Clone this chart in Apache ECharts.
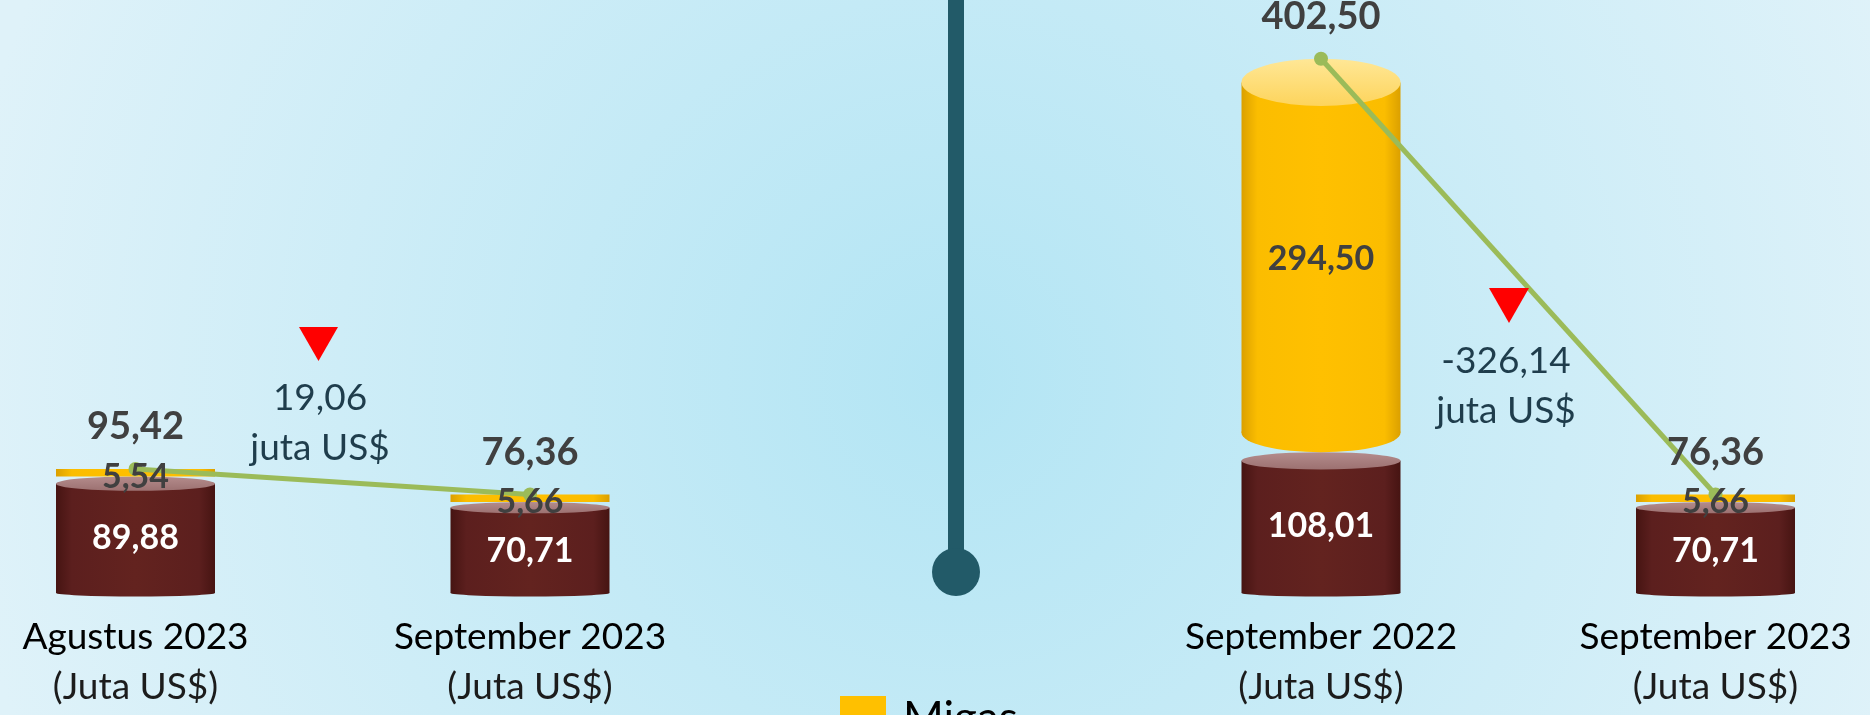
<!DOCTYPE html>
<html><head><meta charset="utf-8">
<script src="https://cdn.jsdelivr.net/npm/echarts/dist/echarts.min.js"></script>
<style>html,body{margin:0;padding:0;overflow:hidden;}#c{width:1870px;height:715px;}</style>
</head><body><div id="c"></div>
<script>
// ---- data ----
const leftCategories = ['Agustus 2023', 'September 2023'];
const rightCategories = ['September 2022', 'September 2023'];
const leftNonMigas = [89.88, 70.71];
const leftMigas = [5.54, 5.66];
const leftTotal = [95.42, 76.36];
const rightNonMigas = [108.01, 70.71];
const rightMigas = [294.50, 5.66];
const rightTotal = [402.50, 76.36];
const changeValues = ['19,06', '-326,14'];
const changeUnit = 'juta US$';
const unitLabel = '(Juta US$)';
const legendNames = ['Migas', 'Non Migas'];

// ---- helpers ----
const FONT = 'Lato, "Open Sans", sans-serif';
const fmt = v => Number(v).toFixed(2).replace('.', ',');
const HALF_W = 79.5;

function segData(base, vals) {
  return vals.map((v, i) => {
    const s = base ? base[i] : 0;
    return [i, s, s + v, v];
  });
}
function hGrad(stops) {
  return { type: 'linear', x: 0, y: 0, x2: 1, y2: 0, colorStops: stops };
}
function vGrad(stops) {
  return { type: 'linear', x: 0, y: 0, x2: 0, y2: 1, colorStops: stops };
}
const PAL = {
  non: {
    body: hGrad([{offset:0,color:'#461412'},{offset:0.1,color:'#5c1f1e'},{offset:0.5,color:'#63231f'},{offset:0.9,color:'#5c1f1e'},{offset:1,color:'#461412'}]),
    top: vGrad([{offset:0,color:'#b48c8c'},{offset:1,color:'#9c7171'}])
  },
  migas: {
    body: hGrad([{offset:0,color:'#dba000'},{offset:0.1,color:'#fbbd00'},{offset:0.5,color:'#ffc000'},{offset:0.9,color:'#fbbd00'},{offset:1,color:'#dba000'}]),
    top: vGrad([{offset:0,color:'#ffe796'},{offset:1,color:'#fdd45c'}])
  }
};

function cylRender(kind) {
  const pal = PAL[kind];
  return function (params, api) {
    const i = api.value(0), s = api.value(1), e = api.value(2);
    const pB = api.coord([i, s]);
    const pT = api.coord([i, e]);
    const cx = pB[0], yB = pB[1], yT = pT[1], h = yB - yT;
    const w = HALF_W;
    const children = [];
    if (h < 20) {
      children.push({ type: 'rect', shape: { x: cx - w, y: yT, width: 2 * w, height: h }, style: { fill: pal.body } });
    } else {
      const ryT = Math.max(5, Math.min(25, h * 0.06));
      const ryB = s === 0 ? 3.5 : ryT * 0.82;
      const y1 = yT + ryT, y2 = yB - ryB;
      children.push({ type: 'rect', shape: { x: cx - w, y: y1, width: 2 * w, height: y2 - y1 }, style: { fill: pal.body } });
      children.push({ type: 'circle', shape: { cx: 0, cy: 0, r: w }, x: cx, y: y2, scaleY: ryB / w, style: { fill: pal.body } });
      children.push({ type: 'circle', shape: { cx: 0, cy: 0, r: w }, x: cx, y: y1, scaleY: ryT / w, style: { fill: pal.top } });
    }
    return { type: 'group', children };
  };
}
function labelRender(kind) {
  return function (params, api) {
    const i = api.value(0), s = api.value(1), e = api.value(2), v = api.value(3);
    const pB = api.coord([i, s]);
    const pT = api.coord([i, e]);
    const cy = (pB[1] + pT[1]) / 2 + (kind === 'migas' ? 4 : 2);
    return {
      type: 'text', x: pB[0], y: cy,
      style: {
        text: fmt(v), fill: kind === 'migas' ? '#404040' : '#ffffff',
        fontSize: 34, fontWeight: 'bold', fontFamily: FONT,
        align: 'center', verticalAlign: 'middle'
      }
    };
  };
}

function panelSeries(gi, non, mig, tot) {
  const nonData = segData(null, non);
  const migData = segData(non, mig);
  const common = { type: 'custom', xAxisIndex: gi, yAxisIndex: gi, encode: { x: 0, y: [1, 2] }, silent: true };
  return [
    Object.assign({}, common, { name: 'Non Migas', data: nonData, renderItem: cylRender('non'), itemStyle: { color: '#63231f' }, z: 2 }),
    Object.assign({}, common, { name: 'Migas', data: migData, renderItem: cylRender('migas'), itemStyle: { color: '#ffc000' }, z: 2 }),
    {
      type: 'line', xAxisIndex: gi, yAxisIndex: gi, name: 'Total' + gi, data: tot,
      symbol: 'circle', symbolSize: 14, z: 3,
      lineStyle: { color: '#9bbb59', width: 5 }, itemStyle: { color: '#9bbb59' },
      label: { show: true, position: 'top', distance: 16, formatter: p => fmt(p.value),
        fontSize: 38, fontWeight: 'bold', fontFamily: FONT, color: '#404040' }
    },
    Object.assign({}, common, { name: 'lblNon' + gi, data: nonData, renderItem: labelRender('non'), z: 4 }),
    Object.assign({}, common, { name: 'lblMig' + gi, data: migData, renderItem: labelRender('migas'), z: 4 })
  ];
}

function xAxisFor(gi, cats) {
  return {
    type: 'category', gridIndex: gi, data: cats, boundaryGap: false,
    axisLine: { show: false }, axisTick: { show: false }, splitLine: { show: false },
    axisLabel: {
      interval: 0, margin: 16,
      formatter: v => '{a|' + v + '}\n{b|' + unitLabel + '}',
      rich: {
        a: { fontSize: 37, color: '#000000', lineHeight: 50, fontFamily: FONT },
        b: { fontSize: 37, color: '#1c1c1c', lineHeight: 50, fontFamily: FONT }
      }
    }
  };
}
function yAxisFor(gi) {
  return { type: 'value', gridIndex: gi, min: 0, max: 440, show: false };
}

const chart = echarts.init(document.getElementById('c'), null, { renderer: 'canvas' });
chart.setOption({
  animation: false,
  backgroundColor: {
    type: 'radial', x: 0.51, y: 0.53, r: 1.4,
    colorStops: [{ offset: 0, color: '#b3e5f4' }, { offset: 1, color: '#dff2f9' }]
  },
  grid: [
    { left: 135.5, width: 394.5, top: 8.7, height: 587.8 },
    { left: 1321, width: 394.5, top: 8.7, height: 587.8 }
  ],
  xAxis: [xAxisFor(0, leftCategories), xAxisFor(1, rightCategories)],
  yAxis: [yAxisFor(0), yAxisFor(1)],
  legend: {
    data: legendNames, orient: 'vertical', left: 835, top: 691, height: 200,
    itemWidth: 46, itemHeight: 46, itemGap: 20, icon: 'rect',
    textStyle: { fontSize: 44, color: '#000', fontFamily: FONT, padding: [0, 0, 0, 12] }
  },
  graphic: [
    { type: 'rect', shape: { x: 948, y: -5, width: 16, height: 580 }, style: { fill: '#225a68' }, z: 1 },
    { type: 'circle', shape: { cx: 956, cy: 572, r: 24 }, style: { fill: '#225a68' }, z: 1 },
    { type: 'polygon', shape: { points: [[299, 327], [338, 327], [318.5, 361]] }, style: { fill: '#ff0000' }, z: 5 },
    { type: 'polygon', shape: { points: [[1489, 288], [1529, 288], [1509, 323]] }, style: { fill: '#ff0000' }, z: 5 },
    { type: 'text', x: 320, y: 423, z: 5, style: { text: changeValues[0] + '\n' + changeUnit, fontSize: 37, fontFamily: FONT, lineHeight: 50, fill: '#1f3d4c', align: 'center', verticalAlign: 'middle' } },
    { type: 'text', x: 1506, y: 386, z: 5, style: { text: changeValues[1] + '\n' + changeUnit, fontSize: 37, fontFamily: FONT, lineHeight: 50, fill: '#1f3d4c', align: 'center', verticalAlign: 'middle' } }
  ],
  series: [].concat(
    panelSeries(0, leftNonMigas, leftMigas, leftTotal),
    panelSeries(1, rightNonMigas, rightMigas, rightTotal)
  )
});
</script>
</body></html>
